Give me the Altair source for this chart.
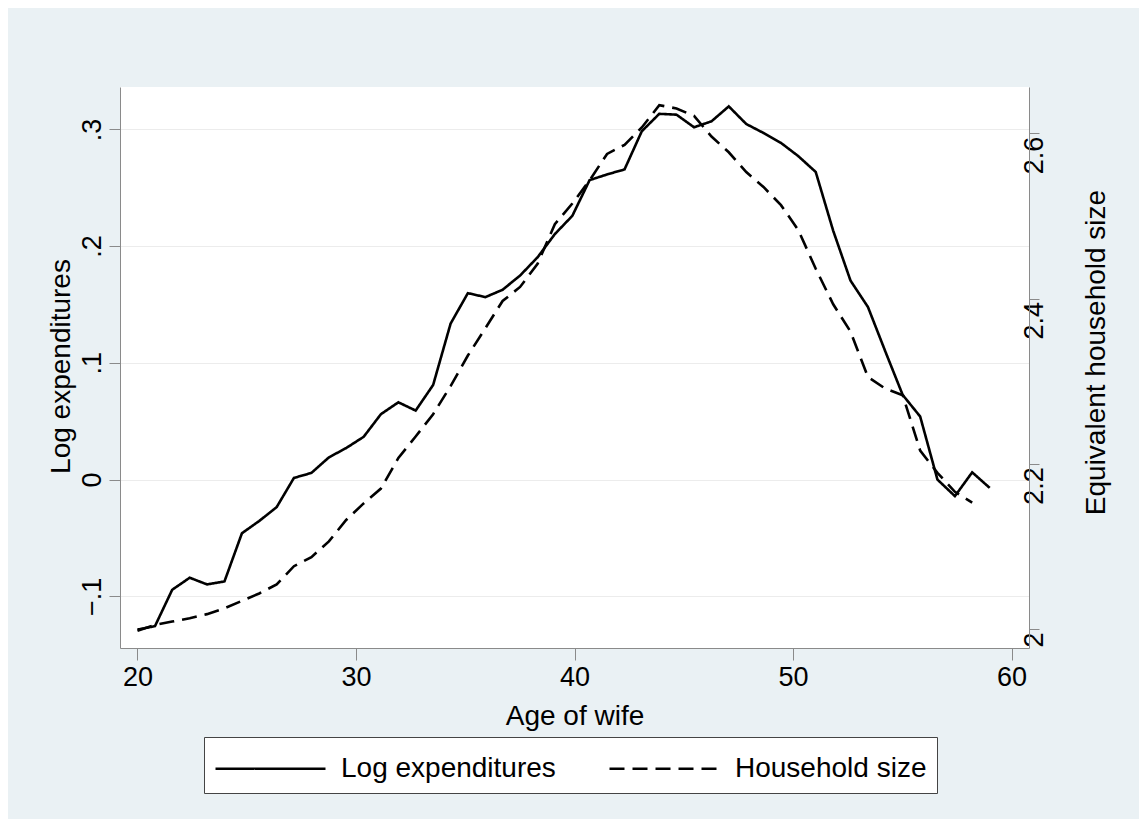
import altair as alt
import pandas as pd

# Age of wife (x) for each observation
ages = [20.00, 20.80, 21.59, 22.39, 23.18, 23.98, 24.78, 25.57, 26.37, 27.16,
        27.96, 28.76, 29.55, 30.35, 31.14, 31.94, 32.73, 33.53, 34.33, 35.12,
        35.92, 36.71, 37.51, 38.31, 39.10, 39.90, 40.69, 41.49, 42.29, 43.08,
        43.88, 44.67, 45.47, 46.27, 47.06, 47.86, 48.65, 49.45, 50.24, 51.04,
        51.84, 52.63, 53.43, 54.22, 55.02, 55.82, 56.61, 57.41, 58.20, 59.00]

# Log expenditures (left axis)
log_exp = [-0.1285, -0.1256, -0.0944, -0.0841, -0.0898, -0.0873, -0.0460, -0.0355, -0.0236, 0.0014,
           0.0057, 0.0190, 0.0270, 0.0366, 0.0560, 0.0662, 0.0591, 0.0810, 0.1336, 0.1597,
           0.1563, 0.1626, 0.1748, 0.1904, 0.2103, 0.2259, 0.2565, 0.2614, 0.2657, 0.2984,
           0.3133, 0.3126, 0.3018, 0.3069, 0.3197, 0.3046, 0.2969, 0.2884, 0.2771, 0.2635,
           0.2131, 0.1705, 0.1478, 0.1100, 0.0725, 0.0540, 0.0000, -0.0142, 0.0062, -0.0071]

# Equivalent household size (right axis)
hh_size = [1.998, 2.005, 2.009, 2.013, 2.018, 2.025, 2.034, 2.043, 2.054, 2.076,
           2.087, 2.106, 2.132, 2.152, 2.170, 2.207, 2.233, 2.260, 2.294, 2.331,
           2.364, 2.397, 2.414, 2.442, 2.490, 2.515, 2.543, 2.575, 2.586, 2.607,
           2.634, 2.630, 2.621, 2.596, 2.577, 2.553, 2.535, 2.513, 2.483, 2.436,
           2.393, 2.360, 2.305, 2.291, 2.283, 2.216, 2.189, 2.166, 2.153]

series_names = ["Log expenditures", "Household size"]

df_exp = pd.DataFrame({"age": ages, "value": log_exp, "series": series_names[0]})
df_hh = pd.DataFrame({"age": ages[:len(hh_size)], "value": hh_size, "series": series_names[1]})

FONT = "Liberation Sans"
GRAY = "#8a8a8a"

x_enc = alt.X(
    "age:Q",
    scale=alt.Scale(domain=[19.2, 60.8], nice=False, zero=False),
    axis=alt.Axis(
        values=[20, 30, 40, 50, 60], title="Age of wife", grid=False,
        tickSize=12, tickColor=GRAY, domainColor=GRAY, tickWidth=1,
        labelFontSize=27, labelPadding=4, labelColor="black",
        titleFontSize=28, titleFontWeight="normal", titleColor="black",
        titleY=68, titleBaseline="middle",
    ),
)

dash_enc = alt.StrokeDash(
    "series:N",
    scale=alt.Scale(domain=series_names, range=[[1, 0], [15, 8]]),
    legend=alt.Legend(
        title=None, orient="none", legendX=84, legendY=650, direction="horizontal",
        symbolType="M-1,0H4.5", symbolSize=1600, symbolStrokeWidth=2.6,
        symbolStrokeColor="black", symbolFillColor="transparent",
        labelFontSize=28, labelColor="black",
        labelLimit=600, labelOffset=84, columnPadding=48, padding=10,
        strokeColor="#444444", fillColor="white",
    ),
)

left = alt.Chart(df_exp).mark_line(color="black", strokeWidth=2.6).encode(
    x=x_enc,
    y=alt.Y(
        "value:Q",
        scale=alt.Scale(domain=[-0.1443, 0.3363], nice=False, zero=False),
        axis=alt.Axis(
            orient="left", values=[-0.1, 0, 0.1, 0.2, 0.3], title="Log expenditures",
            labelExpr="datum.value == 0 ? '0' : replace(format(datum.value, '.1f'), '0.', '.')",
            grid=True, gridColor="#ececec", gridWidth=1,
            tickSize=11, tickColor=GRAY, domainColor=GRAY,
            labelAngle=270, labelAlign="center", labelBaseline="alphabetic",
            labelFontSize=27, labelPadding=9, labelColor="black",
            titleFontSize=28, titleFontWeight="normal", titleColor="black",
            titleAngle=270, titleX=-59, titleY=279, titleAlign="center", titleBaseline="middle",
        ),
    ),
    strokeDash=dash_enc,
)

right = alt.Chart(df_hh).mark_line(color="black", strokeWidth=2.6).encode(
    x=x_enc,
    y=alt.Y(
        "value:Q",
        scale=alt.Scale(domain=[1.977, 2.656], nice=False, zero=False),
        axis=alt.Axis(
            orient="right", values=[2.0, 2.2, 2.4, 2.6], title="Equivalent household size",
            format=".1~f", grid=False,
            tickSize=10, tickColor=GRAY, domainColor=GRAY,
            labelAngle=270, labelAlign="right", labelBaseline="middle",
            labelFontSize=27, labelPadding=-5, labelOffset=3, labelColor="black",
            titleFontSize=28, titleFontWeight="normal", titleColor="black",
            titleAngle=270, titleX=67, titleY=265, titleAlign="center", titleBaseline="middle",
        ),
    ),
    strokeDash=dash_enc,
)

chart = (
    alt.layer(left, right)
    .resolve_scale(y="independent")
    .properties(
        width=909, height=561,
        autosize=alt.AutoSizeParams(type="none"),
        padding={"left": 112, "top": 79, "right": 110, "bottom": 171},
        background="#EAF1F4",
    )
    .configure(font=FONT)
    .configure_view(fill="white", stroke=None)
)

chart.save("out.html", embed_options={"renderer": "svg", "actions": False})
